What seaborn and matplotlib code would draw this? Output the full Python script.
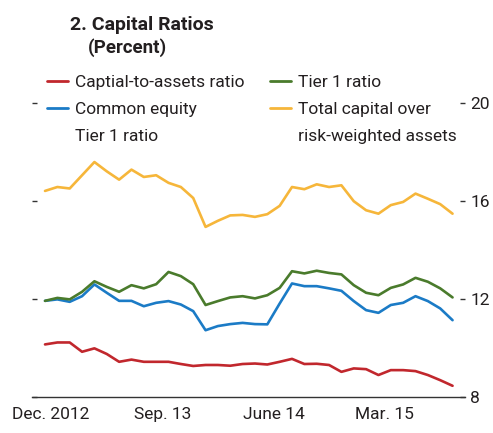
import numpy as np
import pandas as pd
import matplotlib
matplotlib.use("Agg")
import matplotlib.pyplot as plt
from matplotlib.lines import Line2D
import seaborn as sns

capital_to_assets = [10.15, 10.23, 10.23, 9.85, 9.99, 9.76, 9.44, 9.53, 9.44, 9.44,
                     9.44, 9.35, 9.27, 9.31, 9.31, 9.28, 9.35, 9.37, 9.33, 9.44,
                     9.56, 9.35, 9.36, 9.31, 9.03, 9.17, 9.14, 8.90, 9.10, 9.10,
                     9.06, 8.90, 8.69, 8.46]
tier1 = [11.93, 12.05, 11.99, 12.30, 12.73, 12.50, 12.30, 12.57, 12.44, 12.61,
         13.11, 12.94, 12.61, 11.76, 11.92, 12.07, 12.12, 12.03, 12.16, 12.46,
         13.14, 13.05, 13.16, 13.07, 13.01, 12.57, 12.26, 12.16, 12.46, 12.60,
         12.87, 12.71, 12.44, 12.07]
cet1 = [11.93, 11.99, 11.89, 12.12, 12.60, 12.26, 11.93, 11.93, 11.71, 11.85,
        11.92, 11.78, 11.51, 10.73, 10.90, 10.98, 11.03, 10.98, 10.97, 11.82,
        12.64, 12.53, 12.53, 12.44, 12.34, 11.92, 11.55, 11.44, 11.76, 11.85,
        12.12, 11.92, 11.62, 11.14]
total_capital = [16.42, 16.58, 16.52, 17.06, 17.60, 17.22, 16.88, 17.29, 16.99, 17.06,
                 16.75, 16.58, 16.13, 14.95, 15.20, 15.42, 15.44, 15.36, 15.47, 15.81,
                 16.58, 16.49, 16.69, 16.58, 16.65, 16.00, 15.63, 15.49, 15.84, 15.97,
                 16.31, 16.10, 15.88, 15.49]

series_names = ["Captial-to-assets ratio", "Common equity Tier 1 ratio",
                "Tier 1 ratio", "Total capital over risk-weighted assets"]
series_colors = ["#C1272D", "#1B7BC6", "#4A7B2C", "#F6B63A"]
tick_labels = ["Dec. 2012", "Sep. 13", "June 14", "Mar. 15"]

months = np.arange(len(tier1))
df = pd.DataFrame({
    "month": np.tile(months, 4),
    "value": capital_to_assets + cet1 + tier1 + total_capital,
    "series": np.repeat(series_names, len(months)),
})

sns.set_style("white")
plt.rcParams["font.family"] = ["Roboto", "DejaVu Sans"]

fig = plt.figure(figsize=(4.93, 4.33), dpi=100)
ax = fig.add_axes([0.065, 0.083, 0.878, 0.778])

sns.lineplot(data=df, x="month", y="value", hue="series", hue_order=series_names,
             palette=series_colors, linewidth=1.9, legend=False, ax=ax)

ax.set_xlim(-1.05, 34.0)
ax.set_ylim(8, 21.76)
ax.set_xticks([0.5, 9.5, 18.5, 27.5])
ax.set_xticklabels(tick_labels)
ax.set_yticks([8, 12, 16, 20])
ax.set_xlabel("")
ax.set_ylabel("")

for s in ["left", "right", "top"]:
    ax.spines[s].set_visible(False)
ax.spines["bottom"].set_color("#333333")
ax.spines["bottom"].set_linewidth(1.0)

ax.tick_params(axis="x", direction="in", length=6.5, width=1.0, color="#333333",
               labelsize=12.5, pad=7, labelcolor="#231F20")
ax.tick_params(axis="y", direction="in", length=3.5, width=1.0, color="#333333",
               left=True, right=True, labelleft=False, labelright=True,
               labelsize=12.5, pad=4, labelcolor="#231F20")

# legend: two columns, wrapped labels continue on a row with no handle
blank = Line2D([], [], color="none")
h = [Line2D([], [], color=c, lw=2.0) for c in series_colors]
leg_handles = [h[0], h[1], blank, h[2], h[3], blank]
leg_labels = ["Captial-to-assets ratio", "Common equity", "Tier 1 ratio",
              "Tier 1 ratio", "Total capital over", "risk-weighted assets"]
ax.legend(leg_handles, leg_labels, ncol=2, loc="upper left",
          bbox_to_anchor=(0.095, 0.826), bbox_transform=fig.transFigure,
          frameon=False, fontsize=12.5, handlelength=1.2, handletextpad=0.4,
          columnspacing=1.5, labelspacing=0.66, borderpad=0, borderaxespad=0,
          labelcolor="#231F20")

fig.text(0.142, 0.942, "2. Capital Ratios", fontsize=14, fontweight="bold",
         color="#231F20", va="center", ha="left")
fig.text(0.178, 0.889, "(Percent)", fontsize=13.5, fontweight="bold",
         color="#231F20", va="center", ha="left")

fig.savefig("out.png", dpi=100)
